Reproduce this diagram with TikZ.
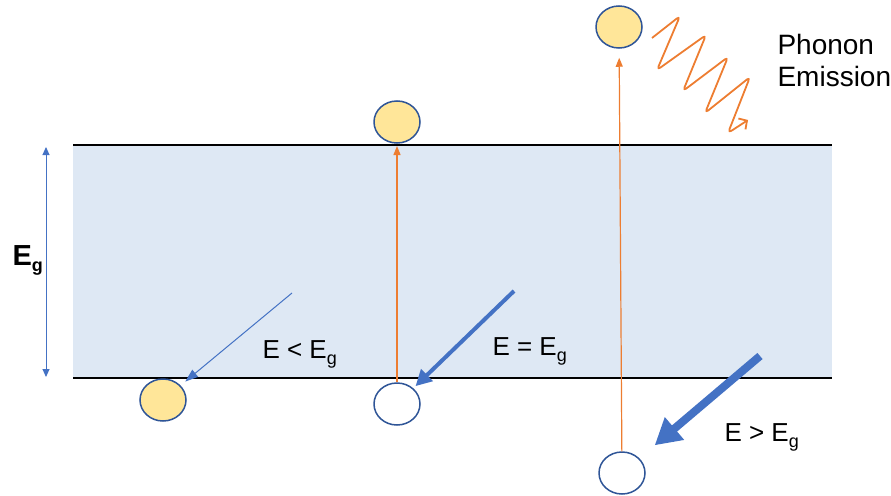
\documentclass[tikz,border=0pt]{standalone}
\usepackage{fontspec}
\setmainfont{Liberation Sans}
\usetikzlibrary{shapes.geometric,arrows.meta,positioning}

\definecolor{bandfill}{HTML}{DEE8F4}
\definecolor{photon}{HTML}{4472C4}
\definecolor{phonon}{HTML}{ED7D31}
\definecolor{elecfill}{HTML}{FFE699}
\definecolor{elecline}{HTML}{2F5597}

% energy with gap subscript
\newcommand{\Esub}[1]{E\raisebox{-6pt}{\fontsize{18}{18}\selectfont #1}}

\begin{document}
\begin{tikzpicture}[
		x = 1pt, y = -1pt, % pixel grid, y downwards
		font = \fontsize{26}{30}\selectfont,
		>= {Triangle[length=8pt, width=7pt]}
		]
		
		\tikzstyle{carrier}=[
		ellipse,
		draw = elecline,
		line width = 1.5pt,
		minimum width = 46pt,
		minimum height = 42pt,
		inner sep = 0pt
		]
		\tikzstyle{elec}=[carrier, fill = elecfill]
		\tikzstyle{hole}=[carrier, fill = white]
		\tikzstyle{edgeline}=[line width = 2pt, black]
		\tikzstyle{lift}=[phonon, line width = 1.2pt, -{Triangle[length=9pt, width=7pt]}]
		
		\useasboundingbox (0,0) rectangle (891,495);
		
		% band gap
		\fill[bandfill] (73,145) rectangle (832,378);
		\coordinate (cbL) at (73,145);
		\coordinate (cbR) at (832,145);
		\coordinate (vbL) at (73,378);
		\coordinate (vbR) at (832,378);
		\draw[edgeline] (cbL) -- (cbR);
		\draw[edgeline] (vbL) -- (vbR);
		
		% gap size
		\coordinate (gapTop) at (46,147);
		\coordinate (gapBot) at (46,377);
		\draw[photon, line width = 1pt, <->] (gapTop) -- (gapBot);
		\node[anchor=base west, font=\fontsize{29}{29}\selectfont\bfseries] (gapLbl) at (9,265) {\Esub{g}};
		
		% carriers
		\node[elec] (eLow) at (163,400) {};
		\node[hole] (hMid) at (397,404) {};
		\node[elec] (eMid) at (397,122) {};
		\node[hole] (hRight) at (622,473) {};
		\node[elec] (eRight) at (619,27) {};
		
		% excitation
		\coordinate (cbMid) at (397,146);
		\draw[lift] (hMid) -- (cbMid);
		\draw[lift, shorten > = 9pt] (hRight) -- (eRight);
		
		% incoming photons
		\coordinate (pLow) at (292,293);
		\coordinate (pMid) at (514,291);
		\coordinate (pHigh) at (760,356);
		\draw[photon, line width = 1pt, -{Triangle[length=13pt, width=9pt]}, shorten > = 6pt] (pLow) -- (eLow);
		\draw[photon, line width = 4pt, -{Triangle[length=16pt, width=16pt]}, shorten > = 3pt] (pMid) -- (hMid);
		\draw[photon, line width = 8pt, -{Triangle[length=26pt, width=28pt]}, shorten > = 20pt] (pHigh) -- (hRight);
		
		\node[anchor=base west] (lblLow) at (259,358) {E < \Esub{g}};
		\node[anchor=base west] (lblMid) at (489,355) {E = \Esub{g}};
		\node[anchor=base west] (lblHigh) at (721,441) {E > \Esub{g}};
		
		% phonon emission
		\coordinate (wavA) at (652,38);
		\coordinate (wavB) at (748,120);
		\draw[phonon, line width = 1.8pt, line join = round, rounded corners = 4pt,
		-{Straight Barb[length=6pt, width=13pt]}]
		(wavA) -- (680,16) -- (657,70) -- (706,35) -- (683,91)
		-- (728,57) -- (705,113) -- (750,77) -- (728,133) -- (wavB);
		\node[anchor=base west, align=left, font=\fontsize{28}{32}\selectfont] (lblPhon) at (774,86) {Phonon\\Emission};
		
	\end{tikzpicture}
\end{document}
